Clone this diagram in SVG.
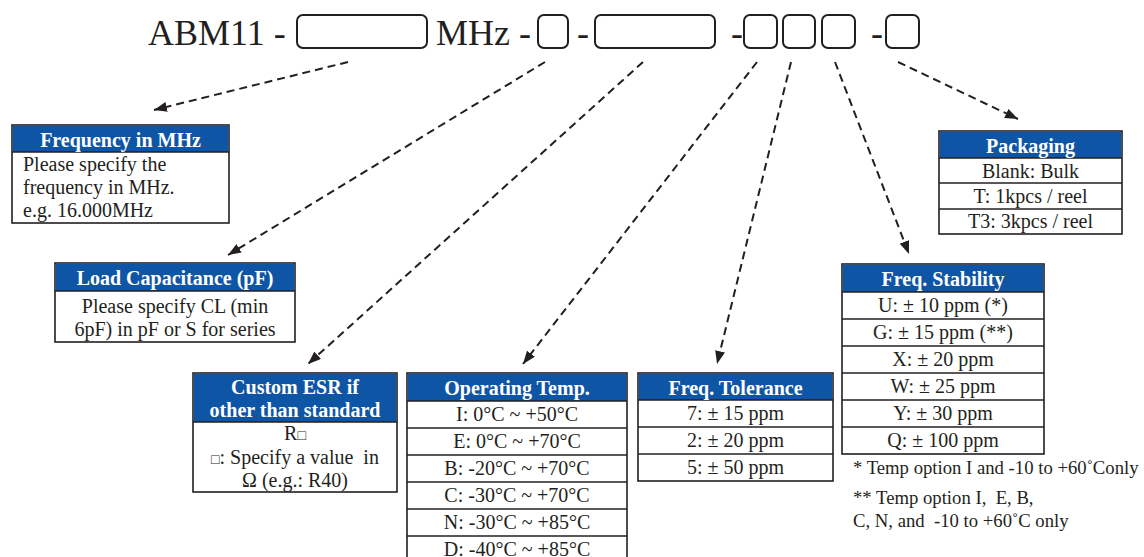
<svg xmlns="http://www.w3.org/2000/svg" width="1144" height="557" viewBox="0 0 1144 557">
<style>
  text { font-family: "Liberation Serif", "Times New Roman", serif; fill: #231f20; }
  .big { font-size: 36px; }
  .hd { font-size: 20px; font-weight: bold; fill: #ffffff; text-anchor: middle; }
  .bd { font-size: 20px; text-anchor: middle; }
  .bl { font-size: 20px; }
  .nt { font-size: 18.7px; white-space: pre; }
  .box { fill: #ffffff; stroke: #231f20; stroke-width: 1.6; }
  .hbar { fill: #0f55a5; }
  .sep { stroke: #231f20; stroke-width: 1.6; }
  .slot { fill: none; stroke: #231f20; stroke-width: 2; }
  .conn { fill: none; stroke: #231f20; stroke-width: 2; stroke-dasharray: 8 5; }
</style>
<defs>
  <marker id="arr" viewBox="0 0 13 10" refX="13" refY="5" markerWidth="13" markerHeight="10" markerUnits="userSpaceOnUse" orient="auto">
    <path d="M0,0 L13,5 L0,10 z" fill="#231f20"/>
  </marker>
</defs>
<rect width="1144" height="557" fill="#ffffff"/>

<g id="part-number">
  <text class="big" x="148" y="45">ABM11 -</text>
  <rect class="slot" x="297" y="15" width="130" height="33" rx="6"/>
  <text class="big" x="436" y="45">MHz -</text>
  <rect class="slot" x="538" y="15" width="30" height="33" rx="6"/>
  <text class="big" x="577" y="45">-</text>
  <rect class="slot" x="595" y="15" width="120" height="33" rx="6"/>
  <text class="big" x="731" y="45">-</text>
  <rect class="slot" x="744" y="15" width="33" height="33" rx="6"/>
  <rect class="slot" x="783" y="15" width="32" height="33" rx="6"/>
  <rect class="slot" x="822" y="15" width="33" height="33" rx="6"/>
  <text class="big" x="871" y="45">-</text>
  <rect class="slot" x="886" y="15" width="33" height="33" rx="6"/>
</g>

<g id="connectors">
  <path class="conn" d="M348,62 L154,110" marker-end="url(#arr)"/>
  <path class="conn" d="M545,62 L228,255" marker-end="url(#arr)"/>
  <path class="conn" d="M643,62 L308,364" marker-end="url(#arr)"/>
  <path class="conn" d="M757,62 L523,364" marker-end="url(#arr)"/>
  <path class="conn" d="M791,62 L717,364" marker-end="url(#arr)"/>
  <path class="conn" d="M835,62 L909,254" marker-end="url(#arr)"/>
  <path class="conn" d="M898,62 L1018,119" marker-end="url(#arr)"/>
</g>

<g id="frequency">
  <rect class="box" x="12" y="125" width="217" height="98"/>
  <rect class="hbar" x="12.8" y="125.8" width="215.4" height="26.2"/>
  <line class="sep" x1="12" y1="152" x2="229" y2="152"/>
  <text class="hd" x="120.5" y="147">Frequency in MHz</text>
  <text class="bl" x="23" y="171">Please specify the</text>
  <text class="bl" x="23" y="194">frequency in MHz.</text>
  <text class="bl" x="23" y="217">e.g. 16.000MHz</text>
</g>

<g id="load-capacitance">
  <rect class="box" x="55" y="263" width="240" height="79"/>
  <rect class="hbar" x="55.8" y="263.8" width="238.4" height="27.2"/>
  <line class="sep" x1="55" y1="291" x2="295" y2="291"/>
  <text class="hd" x="175" y="285">Load Capacitance (pF)</text>
  <text class="bd" x="175" y="313">Please specify CL (min</text>
  <text class="bd" x="175" y="336">6pF) in pF or S for series</text>
</g>

<g id="custom-esr">
  <rect class="box" x="193" y="373" width="204" height="119"/>
  <rect class="hbar" x="193.8" y="373.8" width="202.4" height="48.2"/>
  <line class="sep" x1="193" y1="422" x2="397" y2="422"/>
  <text class="hd" x="295" y="394">Custom ESR if</text>
  <text class="hd" x="295" y="417">other than standard</text>
  <text class="bd" x="295" y="440">R<tspan font-size="14">□</tspan></text>
  <text class="bd" x="295" y="464" style="white-space:pre"><tspan font-size="14">□</tspan>: Specify a value  in</text>
  <text class="bd" x="295" y="487">Ω (e.g.: R40)</text>
</g>

<g id="operating-temp">
  <rect class="box" x="407" y="373" width="220" height="192"/>
  <rect class="hbar" x="407.8" y="373.8" width="218.4" height="27.2"/>
  <line class="sep" x1="407" y1="401" x2="627" y2="401"/>
  <line class="sep" x1="407" y1="428" x2="627" y2="428"/>
  <line class="sep" x1="407" y1="455" x2="627" y2="455"/>
  <line class="sep" x1="407" y1="482" x2="627" y2="482"/>
  <line class="sep" x1="407" y1="509" x2="627" y2="509"/>
  <line class="sep" x1="407" y1="536" x2="627" y2="536"/>
  <text class="hd" x="517" y="395">Operating Temp.</text>
  <text class="bd" x="517" y="421">I: 0°C ~ +50°C</text>
  <text class="bd" x="517" y="448">E: 0°C ~ +70°C</text>
  <text class="bd" x="517" y="475">B: -20°C ~ +70°C</text>
  <text class="bd" x="517" y="502">C: -30°C ~ +70°C</text>
  <text class="bd" x="517" y="529">N: -30°C ~ +85°C</text>
  <text class="bd" x="517" y="556">D: -40°C ~ +85°C</text>
</g>

<g id="freq-tolerance">
  <rect class="box" x="638" y="373" width="195" height="108"/>
  <rect class="hbar" x="638.8" y="373.8" width="193.4" height="26.2"/>
  <line class="sep" x1="638" y1="400" x2="833" y2="400"/>
  <line class="sep" x1="638" y1="427" x2="833" y2="427"/>
  <line class="sep" x1="638" y1="454" x2="833" y2="454"/>
  <text class="hd" x="735.5" y="395">Freq. Tolerance</text>
  <text class="bd" x="735.5" y="420">7: ± 15 ppm</text>
  <text class="bd" x="735.5" y="447">2: ± 20 ppm</text>
  <text class="bd" x="735.5" y="474">5: ± 50 ppm</text>
</g>

<g id="freq-stability">
  <rect class="box" x="842" y="264" width="202" height="190"/>
  <rect class="hbar" x="842.8" y="264.8" width="200.4" height="27.2"/>
  <line class="sep" x1="842" y1="292" x2="1044" y2="292"/>
  <line class="sep" x1="842" y1="319" x2="1044" y2="319"/>
  <line class="sep" x1="842" y1="346" x2="1044" y2="346"/>
  <line class="sep" x1="842" y1="373" x2="1044" y2="373"/>
  <line class="sep" x1="842" y1="400" x2="1044" y2="400"/>
  <line class="sep" x1="842" y1="427" x2="1044" y2="427"/>
  <text class="hd" x="943" y="286">Freq. Stability</text>
  <text class="bd" x="943" y="312">U: ± 10 ppm (*)</text>
  <text class="bd" x="943" y="339">G: ± 15 ppm (**)</text>
  <text class="bd" x="943" y="366">X: ± 20 ppm</text>
  <text class="bd" x="943" y="393">W: ± 25 ppm</text>
  <text class="bd" x="943" y="420">Y: ± 30 ppm</text>
  <text class="bd" x="943" y="447">Q: ± 100 ppm</text>
</g>

<g id="notes">
  <text class="nt" x="853" y="474">* Temp option I and -10 to +60˚Conly</text>
  <text class="nt" x="853" y="504">** Temp option I,  E, B,</text>
  <text class="nt" x="853" y="527">C, N, and  -10 to +60˚C only</text>
</g>

<g id="packaging">
  <rect class="box" x="939" y="131" width="183" height="103"/>
  <rect class="hbar" x="939.8" y="131.8" width="181.4" height="26.2"/>
  <line class="sep" x1="939" y1="158" x2="1122" y2="158"/>
  <line class="sep" x1="939" y1="183" x2="1122" y2="183"/>
  <line class="sep" x1="939" y1="209" x2="1122" y2="209"/>
  <text class="hd" x="1030.5" y="153">Packaging</text>
  <text class="bd" x="1030.5" y="178">Blank: Bulk</text>
  <text class="bd" x="1030.5" y="203">T: 1kpcs / reel</text>
  <text class="bd" x="1030.5" y="228">T3: 3kpcs / reel</text>
</g>
</svg>
